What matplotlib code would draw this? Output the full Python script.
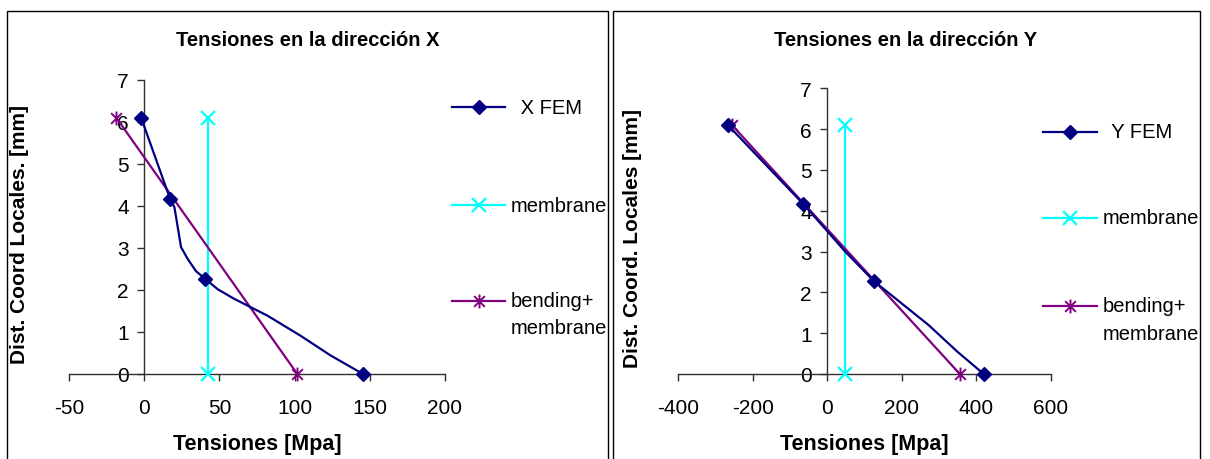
import matplotlib
matplotlib.use("Agg")
import matplotlib.pyplot as plt
from matplotlib.lines import Line2D
from matplotlib.patches import Rectangle
from matplotlib.path import Path

plt.rcParams['font.family'] = ['Liberation Sans', 'DejaVu Sans']
plt.rcParams['axes.unicode_minus'] = False

# ---- data: stresses through the thickness ----
# direction X
x_fem_stress = [-2, 17.2, 20.1, 24.5, 28.9, 34.4, 40.4, 48.8, 59.8, 81.9, 104, 124, 145.5]
x_fem_depth = [6.1, 4.17, 3.97, 3.02, 2.74, 2.45, 2.27, 2.02, 1.79, 1.39, 0.91, 0.44, 0.0]
x_fem_marked = [0, 1, 6, 12]
x_membrane_stress = [42.6, 42.6]
x_bending_stress = [-18.5, 101.8]

# direction Y
y_fem_stress = [-267, -65, 0, 48, 126, 272, 349, 420]
y_fem_depth = [6.1, 4.17, 3.5, 3.0, 2.27, 1.2, 0.55, 0.0]
y_fem_marked = [0, 1, 4, 7]
y_membrane_stress = [46.3, 46.3]
y_bending_stress = [-256, 356]

section_depth = [6.1, 0.0]

x_ticks = [-50, 0, 50, 100, 150, 200]
y_ticks_x = [-400, -200, 0, 200, 400, 600]
depth_ticks = [0, 1, 2, 3, 4, 5, 6, 7]

NAVY = '#000080'
CYAN = '#00FFFF'
PURPLE = '#800080'

TICK_FS = 15
LEGEND_FS = 14.5

# asterisk marker: an "x" crossed by a vertical bar
STAR = Path([(-1, -1), (1, 1), (-1, 1), (1, -1), (0, -1.3), (0, 1.3)],
            [Path.MOVETO, Path.LINETO, Path.MOVETO, Path.LINETO,
             Path.MOVETO, Path.LINETO])

W, H = 1210, 460
fig = plt.figure(figsize=(W / 100, H / 100), dpi=100)


def fx(px):
    return px / W


def fy(py):
    return 1 - py / H


def make_axes(x0, x1, y0, y1):
    return fig.add_axes([fx(x0), fy(y0), fx(x1) - fx(x0), fy(y1) - fy(y0)])


def style_axes(ax, xlim, xticks):
    ax.set_xlim(*xlim)
    ax.set_ylim(0, 7)
    ax.set_xticks(xticks)
    ax.set_yticks(depth_ticks)
    for s in ('top', 'right'):
        ax.spines[s].set_visible(False)
    ax.spines['left'].set_position(('data', 0))
    for s in ('left', 'bottom'):
        ax.spines[s].set_color('#303030')
        ax.spines[s].set_linewidth(1.0)
    ax.tick_params(axis='x', direction='out', length=5, width=1.0,
                   color='#303030', labelsize=TICK_FS, pad=12)
    ax.tick_params(axis='y', direction='out', length=5, width=1.0,
                   color='#303030', labelsize=TICK_FS, pad=6)
    ax.set_xlabel('Tensiones [Mpa]', fontsize=15.5, fontweight='bold', labelpad=12)
    ax.patch.set_alpha(0)


def plot_series(ax, fem_s, fem_d, marked, mem_s, bend_s):
    ax.plot(fem_s, fem_d, color=NAVY, lw=1.6, marker='D', markersize=7.5,
            markevery=marked, clip_on=False, zorder=4)
    ax.plot(mem_s, section_depth, color=CYAN, lw=1.6, marker='x', markersize=10,
            markeredgewidth=1.6, clip_on=False, zorder=3)
    ax.plot(bend_s, section_depth, color=PURPLE, lw=1.6, marker=STAR, markersize=10,
            markeredgewidth=1.4, clip_on=False, zorder=3)


def legend(x_line0, x_line1, x_text, rows, fem_label, text_shift):
    entries = [(fem_label, NAVY, 'D', 7, 1.0),
               ('membrane', CYAN, 'x', 10, 1.6),
               ('bending+', PURPLE, STAR, 10, 1.4)]
    for (label, col, mk, ms, mew), yy in zip(entries, rows):
        fig.add_artist(Line2D([fx(x_line0), fx(x_line1)], [fy(yy), fy(yy)],
                              transform=fig.transFigure, color=col, lw=1.6))
        fig.add_artist(Line2D([fx((x_line0 + x_line1) / 2)], [fy(yy)],
                              transform=fig.transFigure, color=col, marker=mk,
                              markersize=ms, markeredgewidth=mew, lw=0))
        tx = x_text + (text_shift if label == fem_label else 0)
        fig.text(fx(tx), fy(yy), label, fontsize=LEGEND_FS, va='center', ha='left')
    fig.text(fx(x_text), fy(rows[2] + 27), 'membrane', fontsize=LEGEND_FS,
             va='center', ha='left')


# outer frames of both charts
for x0, x1 in ((7, 608), (613, 1200)):
    fig.add_artist(Rectangle((fx(x0), fy(480)), fx(x1) - fx(x0), fy(12) - fy(480),
                             transform=fig.transFigure, fill=False,
                             edgecolor='black', lw=1.0))

# chart X
ax1 = make_axes(69, 445, 375, 81)
style_axes(ax1, (-50, 200), x_ticks)
plot_series(ax1, x_fem_stress, x_fem_depth, x_fem_marked,
            x_membrane_stress, x_bending_stress)
fig.text(fx(20), fy(235), 'Dist. Coord Locales. [mm]', rotation=90,
         fontsize=15, fontweight='bold', ha='center', va='center')
fig.text(fx(308), fy(41), 'Tensiones en la dirección X', fontsize=14.5,
         fontweight='bold', ha='center', va='center')
legend(452, 505, 511, (108, 206, 302), ' X FEM', 4)

# chart Y
ax2 = make_axes(678.3, 1050.7, 375, 89.3)
style_axes(ax2, (-400, 600), y_ticks_x)
plot_series(ax2, y_fem_stress, y_fem_depth, y_fem_marked,
            y_membrane_stress, y_bending_stress)
fig.text(fx(632), fy(239), 'Dist. Coord. Locales [mm]', rotation=90,
         fontsize=15, fontweight='bold', ha='center', va='center')
fig.text(fx(906), fy(41), 'Tensiones en la dirección Y', fontsize=14.5,
         fontweight='bold', ha='center', va='center')
legend(1043, 1097, 1103, (133, 219, 307), ' Y FEM', 3)

fig.savefig('out.png', dpi=100)
